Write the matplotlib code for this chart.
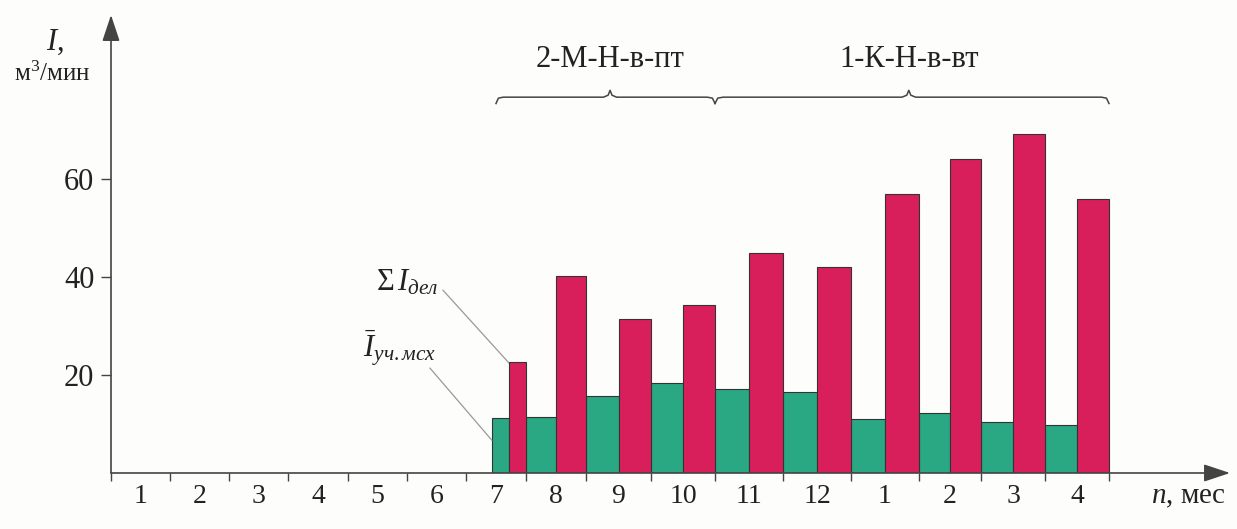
import numpy as np
import matplotlib
matplotlib.use("Agg")
import matplotlib.pyplot as plt

plt.rcParams['font.family'] = ['Liberation Serif', 'DejaVu Serif']
plt.rcParams['mathtext.fontset'] = 'custom'
plt.rcParams['mathtext.rm'] = 'Liberation Serif'
plt.rcParams['mathtext.it'] = 'Liberation Serif:italic'

# month labels along the axis (Jan..Dec, then Jan..Apr of next year)
months = ['1', '2', '3', '4', '5', '6', '7', '8', '9', '10', '11', '12', '1', '2', '3', '4']
bar_pos = [7, 8, 9, 10, 11, 12, 13, 14, 15, 16]          # slots that carry bars
i_uch = [11.3, 11.4, 15.7, 18.4, 17.1, 16.6, 11.0, 12.2, 10.5, 9.8]   # green
i_del = [22.7, 40.2, 31.5, 34.3, 44.9, 42.1, 56.9, 64.1, 69.2, 56.0]  # red
groups = ['2-М-Н-в-пт', '1-К-Н-в-вт']
group_span = [(6.5, 10), (10, 16)]
group_peak = [8.37, 12.85]

# hand drawn axis: month slots are not all equal width (px from y axis)
slot_idx = [0, 1, 2, 3, 4, 5, 6, 7, 8, 9, 10, 11, 12, 13, 14, 15, 16, 18]
slot_px = [0, 59, 118, 177, 237, 296, 355, 415, 475, 540, 604, 672, 740, 808, 870, 934, 998, 1119]
fwd = lambda x: np.interp(x, slot_idx, slot_px)
inv = lambda p: np.interp(p, slot_px, slot_idx)

green = '#2aa783'
red = '#d81f5c'
axc = '#444444'
txt = '#222222'

fig = plt.figure(figsize=(12.37, 5.29), dpi=100)
fig.patch.set_facecolor('#fdfdfb')
ax = fig.add_axes([111/1237, 56/529, 1119/1237, 458/529])
ax.set_facecolor('none')
ax.set_xscale('function', functions=(fwd, inv))
ax.set_xlim(0, 18)
ax.set_ylim(0, 458/4.9)

pos = np.array(bar_pos, dtype=float)
g_left = pos - 1
g_w = np.full(len(pos), 0.5)
r_left = pos - 0.5
r_w = np.full(len(pos), 0.5)
# first month is only partly covered in the drawing
g_left[0], g_w[0] = pos[0] - 0.57, 0.29
r_left[0], r_w[0] = pos[0] - 0.28, 0.28

ax.bar(g_left, i_uch, width=g_w, align='edge', color=green, edgecolor='#333333', linewidth=0.8, zorder=2)
ax.bar(r_left, i_del, width=r_w, align='edge', color=red, edgecolor='#333333', linewidth=0.8, zorder=3)

for s in ax.spines.values():
    s.set_visible(False)
arrow = dict(arrowstyle='-|>,head_length=0.9,head_width=0.3', color=axc, lw=1.2, mutation_scale=18,
             shrinkA=0, shrinkB=0)
ax.annotate('', xy=(1, 0), xytext=(0, 0), xycoords='axes fraction', arrowprops=arrow)
ax.annotate('', xy=(0, 1), xytext=(0, 0), xycoords='axes fraction', arrowprops=arrow)

ax.set_xticks(range(17))
ax.set_xticklabels([])
ax.set_xticks(np.arange(16) + 0.5, minor=True)
ax.set_xticklabels(months, minor=True, fontsize=20)
ax.tick_params(axis='x', which='major', length=6, width=1, color=axc, direction='out')
ax.tick_params(axis='x', which='minor', length=0, pad=8)
ax.set_yticks([20, 40, 60])
ax.tick_params(axis='y', length=7, width=1, color=axc, direction='out', labelsize=22, pad=5)
for t in ax.get_xticklabels(minor=True) + ax.get_yticklabels():
    t.set_color(txt)

# group braces
y0 = 76.7
for name, (a, b), p in zip(groups, group_span, group_peak):
    bx = [a, a + 0.04, a + 0.12, p - 0.1, p - 0.03, p, p + 0.03, p + 0.1, b - 0.12, b - 0.04, b]
    by = [y0 - 1.3, y0 - 0.2, y0, y0, y0 + 0.4, y0 + 1.4, y0 + 0.4, y0, y0, y0 - 0.2, y0 - 1.3]
    ax.plot(bx, by, color=axc, lw=1.1, clip_on=False)
    ax.text(p, 84.3, name, ha='center', va='center', fontsize=22, color=txt)

# series labels with leader lines
ax.text(5.0, 38.8, r'$\Sigma\, I_{дел}$', ha='center', va='center', fontsize=22, color=txt)
ax.plot([5.61, 6.72], [37.3, 22.4], color='#999999', lw=0.9)
ax.text(4.88, 25.5, r'$\bar{I}_{уч.мсх}$', ha='center', va='center', fontsize=22, color=txt)
ax.plot([5.39, 6.43], [21.4, 6.7], color='#999999', lw=0.9)

fig.text(55/1237, 1 - 42/529, r'$I$,', ha='center', va='center', fontsize=22, color=txt)
fig.text(52/1237, 1 - 74/529, r'м$^3$/мин', ha='center', va='center', fontsize=18, color=txt)
fig.text(1188/1237, 1 - 497/529, r'$n$, мес', ha='center', va='center', fontsize=21, color=txt)

fig.savefig('out.png', dpi=100, facecolor=fig.get_facecolor())
